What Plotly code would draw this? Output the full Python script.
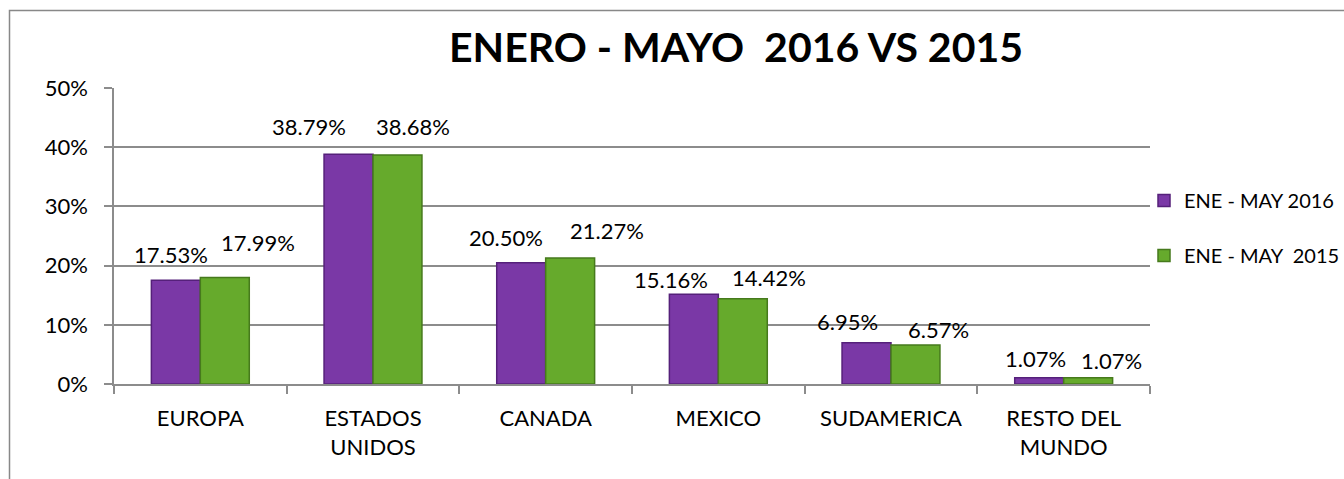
import plotly.graph_objects as go

categories = ["EUROPA", "ESTADOS<br>UNIDOS", "CANADA", "MEXICO", "SUDAMERICA", "RESTO DEL<br>MUNDO"]
series_2016_name = "ENE - MAY 2016"
series_2015_name = "ENE - MAY&nbsp; 2015"
values_2016 = [0.1753, 0.3879, 0.2050, 0.1516, 0.0695, 0.0107]
values_2015 = [0.1799, 0.3868, 0.2127, 0.1442, 0.0657, 0.0107]
y_ticks = [0, 0.1, 0.2, 0.3, 0.4, 0.5]
y_tick_labels = ["0%", "10%", "20%", "30%", "40%", "50%"]
title_text = "ENERO - MAYO&nbsp; 2016 VS 2015"

# label placement offsets (px) relative to bar centre / bar top
label_dx_2016 = [-5, -40, -15, -23, -19, -4]
label_dy_2016 = [26, 28, 25, 15, 21, 19]
label_dx_2015 = [33, 15, 37, 26, 23, 23]
label_dy_2015 = [35, 29, 28, 21, 16, 17]

FONT = "Lato, Carlito, Calibri, sans-serif"
PURPLE = "#7a38a6"
GREEN = "#66aa2c"
GRID = "#8c8c8c"

W, H = 1344, 479
L, R, T, B = 114, 194, 88, 95
pw, ph = W - L - R, H - T - B

fig = go.Figure()
fig.add_trace(go.Bar(
    x=categories, y=values_2016, name=series_2016_name,
    marker=dict(color=PURPLE, line=dict(color="#55207a", width=1.5)),
    legendgroup="a",
))
fig.add_trace(go.Bar(
    x=categories, y=values_2015, name=series_2015_name,
    marker=dict(color=GREEN, line=dict(color="#467a1c", width=1.5)),
    legendgroup="b",
))

half = 24.5
for i, c in enumerate(categories):
    fig.add_annotation(x=c, y=values_2016[i], text=f"{values_2016[i]*100:.2f}%",
                       showarrow=False, xanchor="center", yanchor="middle",
                       xshift=-half + label_dx_2016[i], yshift=label_dy_2016[i],
                       font=dict(family=FONT, size=22, color="black"))
    fig.add_annotation(x=c, y=values_2015[i], text=f"{values_2015[i]*100:.2f}%",
                       showarrow=False, xanchor="center", yanchor="middle",
                       xshift=half + label_dx_2015[i], yshift=label_dy_2015[i],
                       font=dict(family=FONT, size=22, color="black"))

# outer chart border
fig.add_shape(type="rect", xref="paper", yref="paper",
              x0=(9.5 - L) / pw, x1=(W + 5 - L) / pw,
              y0=-(H + 5 - (T + ph)) / ph, y1=(T + ph - 10.5) / ph,
              line=dict(color="#888888", width=1.5), fillcolor="rgba(0,0,0,0)", layer="below")

fig.update_layout(
    width=W, height=H,
    margin=dict(l=L, r=R, t=T, b=B, autoexpand=False),
    paper_bgcolor="white", plot_bgcolor="white",
    barmode="group", bargap=0.433, bargroupgap=0,
    font=dict(family=FONT, size=22, color="black"),
    title=dict(text=f"<b>{title_text}</b>", x=736 / W, xanchor="center",
               y=1 - 48 / H, yanchor="middle", xref="container", yref="container",
               font=dict(family=FONT, size=41, color="black")),
    legend=dict(x=(1144 - L) / pw, xanchor="left", y=(T + ph - 181) / ph, yanchor="top",
                font=dict(family=FONT, size=20, color="black"),
                traceorder="grouped", tracegroupgap=26, itemwidth=30,
                bgcolor="rgba(0,0,0,0)"),
    showlegend=True,
)
fig.update_xaxes(
    showline=True, linecolor=GRID, linewidth=1.5,
    ticks="outside", tickson="boundaries", ticklen=8, tickcolor=GRID, tickwidth=1.5,
    showgrid=False, ticklabelstandoff=14,
    tickfont=dict(family=FONT, size=22, color="black"),
)
fig.update_yaxes(
    range=[0, 0.5], tickvals=y_ticks, ticktext=y_tick_labels,
    showline=True, linecolor=GRID, linewidth=1.5,
    ticks="outside", ticklen=8, tickcolor=GRID, tickwidth=1.5,
    showgrid=True, gridcolor=GRID, gridwidth=1.5, zeroline=False,
    ticklabelstandoff=12,
    tickfont=dict(family=FONT, size=22, color="black"),
)

fig.write_html("out.html", config={"displayModeBar": False},
               post_script="document.body.style.margin='0';document.body.style.overflow='hidden';")
